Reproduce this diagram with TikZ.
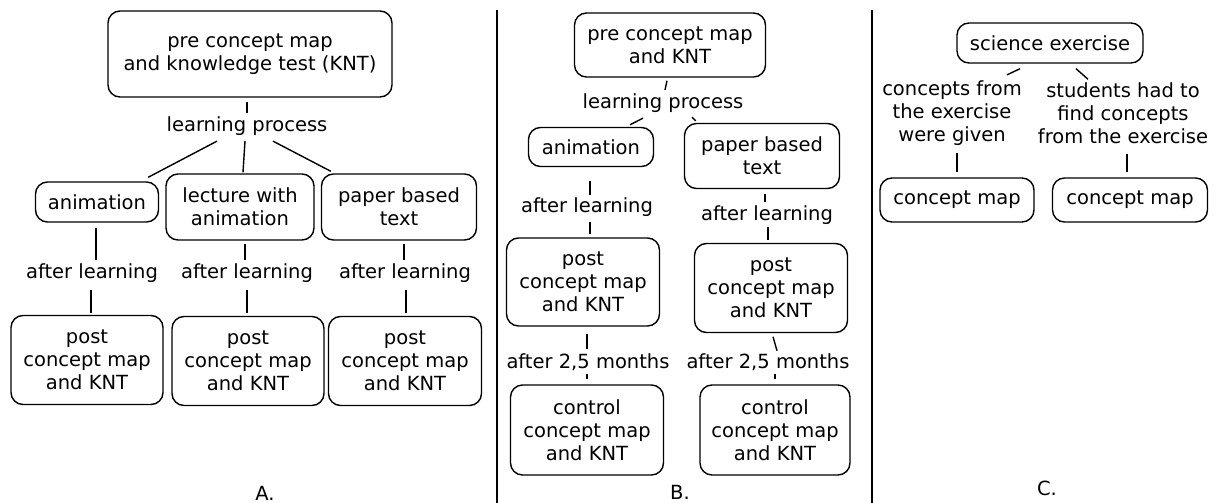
\documentclass[tikz,border=0pt]{standalone}
\usepackage{fontspec}
\setmainfont{DejaVu Sans}
\usetikzlibrary{calc}

\begin{document}
\begin{tikzpicture}[x=1pt,y=-1pt,
    every node/.style={font=\fontsize{19.5}{23}\selectfont},
    box/.style={draw,rounded corners=12pt,line width=1.4pt,align=center,inner sep=2pt},
    lbl/.style={align=center,inner sep=2pt},
    link/.style={line width=1.4pt},
    divider/.style={line width=2.2pt}]
  \useasboundingbox (0,0) rectangle (1223,503);

  % A.
  \node[box,minimum width=284pt,minimum height=86pt] (preA) at (250,54) {pre concept map\\and knowledge test (KNT)};
  \node[lbl] (lpA) at (247,126) {learning process};
  \node[box,minimum width=123pt,minimum height=40pt] (animA) at (97,202) {animation};
  \node[box,minimum width=148pt,minimum height=66pt] (lectA) at (240,207) {lecture with\\animation};
  \node[box,minimum width=155pt,minimum height=66pt] (paperA) at (399,207) {paper based\\text};
  \node[lbl] (alA1) at (92,273) {after learning};
  \node[lbl] (alA2) at (247,273) {after learning};
  \node[lbl] (alA3) at (405,273) {after learning};
  \node[box,minimum width=152pt,minimum height=89pt] (postA1) at (87,360) {post\\concept map\\and KNT};
  \node[box,minimum width=152pt,minimum height=89pt] (postA2) at (248,361) {post\\concept map\\and KNT};
  \node[box,minimum width=153pt,minimum height=89pt] (postA3) at (405,361) {post\\concept map\\and KNT};
  \node[lbl] (capA) at (265,493) {A.};

  \draw[link] ($(preA.south)+(-3,4)$) -- ($(lpA.north)+(0,-1)$);
  \draw[link] ($(lpA.south)+(-30,3.5)$) -- ($(animA.north east)+(-11,-4)$);
  \draw[link] ($(lpA.south)+(-2,3.5)$) -- ($(lectA.north)+(3,-1)$);
  \draw[link] ($(lpA.south)+(26,3.5)$) -- ($(paperA.north west)+(10,-2)$);
  \draw[link] ($(animA.south)+(-1,5)$) -- ($(alA1.north)+(4,-1)$);
  \draw[link] ($(lectA.south)+(5,3)$) -- ($(alA2.north)+(-2,-1)$);
  \draw[link] ($(paperA.south)+(5,3)$) -- ($(alA3.north)+(-1,-1)$);
  \draw[link] ($(alA1.south)+(-1,5)$) -- ($(postA1.north)+(4,-2)$);
  \draw[link] ($(alA2.south)+(0,5)$) -- ($(postA2.north)+(-1,-3)$);
  \draw[link] ($(alA3.south)+(1,5)$) -- ($(postA3.north)+(1,-3)$);

  \draw[divider] (497,10) -- (497,503);

  % B.
  \node[box,minimum width=191pt,minimum height=64pt] (preB) at (670,45) {pre concept map\\and KNT};
  \node[lbl] (lpB) at (663,103) {learning process};
  \node[box,minimum width=125pt,minimum height=39pt] (animB) at (591,147) {animation};
  \node[box,minimum width=155pt,minimum height=65pt] (paperB) at (762,156) {paper based\\text};
  \node[lbl] (alB1) at (587,207) {after learning};
  \node[lbl] (alB2) at (767,215) {after learning};
  \node[box,minimum width=153pt,minimum height=88pt] (postB1) at (583,282) {post\\concept map\\and KNT};
  \node[box,minimum width=153pt,minimum height=89pt] (postB2) at (771,288) {post\\concept map\\and KNT};
  \node[lbl] (amB1) at (588,362) {after 2,5 months};
  \node[lbl] (amB2) at (768,362) {after 2,5 months};
  \node[box,minimum width=153pt,minimum height=90pt] (ctlB1) at (587,430) {control\\concept map\\and KNT};
  \node[box,minimum width=150pt,minimum height=90pt] (ctlB2) at (775,430) {control\\concept map\\and KNT};
  \node[lbl] (capB) at (680,492) {B.};

  \draw[link] ($(preB.south)+(-3,3)$) -- ($(lpB.north)+(2,-1.5)$);
  \draw[link] ($(lpB.south)+(-20,3.5)$) -- ($(animB.north)+(39,-2)$);
  \draw[link] ($(lpB.south)+(29,2.5)$) -- ($(paperB.north west)+(12,-2)$);
  \draw[link] ($(animB.south)+(-1,13.5)$) -- ($(alB1.north)+(3,-0.5)$);
  \draw[link] ($(alB1.south)+(3,3.5)$) -- ($(postB1.north)+(7,-3)$);
  \draw[link] ($(paperB.south)+(3,4.5)$) -- ($(alB2.north)+(-2,-1.5)$);
  \draw[link] ($(alB2.south)+(1,0)$) -- ($(postB2.north)+(-3,-3)$);
  \draw[link] ($(postB1.south)+(4,7)$) -- ($(amB1.north)+(-1,-2.5)$);
  \draw[link] ($(postB2.south)+(2,3.5)$) -- ($(amB2.north)+(9,-0.5)$);
  \draw[link] ($(amB1.south)+(-1,1.5)$) -- ($(ctlB1.north)+(0,-5)$);
  \draw[link] ($(amB2.south)+(7,1.5)$) -- ($(ctlB2.north)+(0,-5)$);

  \draw[divider] (872,10) -- (872,503);

  % C.
  \node[box,minimum width=186pt,minimum height=40pt] (sciC) at (1050,43) {science exercise};
  \node[lbl] (givenC) at (952,113) {concepts from\\the exercise\\were given};
  \node[lbl] (findC) at (1123,113) {students had to\\find concepts\\from the exercise};
  \node[box,minimum width=154pt,minimum height=44pt] (cmC1) at (957,200) {concept map};
  \node[box,minimum width=155pt,minimum height=44pt] (cmC2) at (1130,200) {concept map};
  \node[lbl] (capC) at (1047,488) {C.};

  \draw[link] ($(sciC.south)+(-30,5)$) -- ($(givenC.north)+(55,-3.5)$);
  \draw[link] ($(sciC.south)+(26,5)$) -- ($(findC.north)+(-35,-1)$);
  \draw[link] ($(givenC.south)+(5,5.5)$) -- ($(cmC1.north)+(0,-5)$);
  \draw[link] ($(findC.south)+(4,8)$) -- ($(cmC2.north)+(-3,-5)$);
\end{tikzpicture}
\end{document}
